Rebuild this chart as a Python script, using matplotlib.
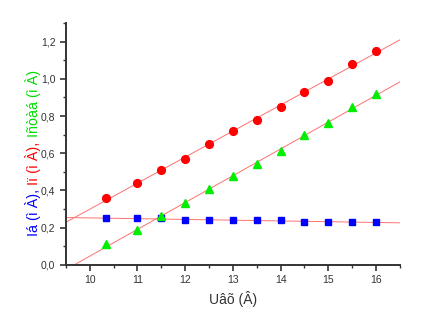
"""Recreate the current/voltage chart with linear fits."""

import matplotlib

matplotlib.use("Agg")
import matplotlib.pyplot as plt
import numpy as np
from matplotlib.ticker import FuncFormatter, MultipleLocator

plt.rcParams["font.family"] = ["Liberation Sans", "DejaVu Sans"]

u_in = [10.35, 11.0, 11.5, 12.0, 12.5, 13.0, 13.5, 14.0, 14.5, 15.0, 15.5, 16.0]
i_a = [0.25, 0.25, 0.25, 0.24, 0.24, 0.24, 0.24, 0.24, 0.23, 0.23, 0.23, 0.23]
i_p = [0.36, 0.44, 0.51, 0.57, 0.65, 0.72, 0.78, 0.85, 0.93, 0.99, 1.08, 1.15]
i_stab = [0.11, 0.19, 0.26, 0.33, 0.41, 0.48, 0.54, 0.61, 0.70, 0.76, 0.85, 0.92]

X_LIM = (9.5, 16.5)
Y_LIM = (0.0, 1.3)
FIT_COLOR = "#ff7070"
AXIS_COLOR = "#333333"

fig = plt.figure(figsize=(4.25, 3.29), dpi=100)
ax = fig.add_axes([0.155, 0.195, 0.786, 0.735])

x_fit = np.array(X_LIM)
for values in (i_a, i_p, i_stab):
    slope, intercept = np.polyfit(u_in, values, 1)
    ax.plot(x_fit, slope * x_fit + intercept, color=FIT_COLOR, linewidth=0.7, zorder=2)

ax.plot(u_in, i_a, "s", color="#0000ff", markersize=4.6, zorder=3)
ax.plot(u_in, i_p, "o", color="#ff0000", markersize=5.6, zorder=3)
ax.plot(u_in, i_stab, "^", color="#00ee00", markersize=5.6, zorder=3)

ax.set_xlim(*X_LIM)
ax.set_ylim(*Y_LIM)
ax.xaxis.set_major_locator(MultipleLocator(1))
ax.xaxis.set_minor_locator(MultipleLocator(0.5))
ax.yaxis.set_major_locator(MultipleLocator(0.2))
ax.yaxis.set_minor_locator(MultipleLocator(0.1))
ax.yaxis.set_major_formatter(FuncFormatter(lambda v, _: f"{v:.1f}".replace(".", ",")))

for side in ("top", "right"):
    ax.spines[side].set_visible(False)
for side in ("left", "bottom"):
    ax.spines[side].set_color(AXIS_COLOR)
    ax.spines[side].set_linewidth(1.4)

ax.tick_params(which="major", direction="out", length=4, width=1.2,
               color=AXIS_COLOR, labelcolor=AXIS_COLOR, labelsize=7.5)
ax.tick_params(which="minor", direction="out", length=2.5, width=1.0, color=AXIS_COLOR)

ax.set_xlabel("Uâõ (Â)", fontsize=10, color=AXIS_COLOR, labelpad=4)

# multi-coloured y label, built bottom-to-top from rotated pieces
parts = [("Iá (ì À), ", "#0000ff"), ("Iï (ì À), ", "#ff0000"), ("Iñòàá (ì À)", "#00dd00")]
fig.canvas.draw()
renderer = fig.canvas.get_renderer()
texts = []
for label, color in parts:
    texts.append(fig.text(0.078, 0.0, label, rotation=90, color=color, fontsize=10.3,
                          ha="center", va="bottom"))
heights = [t.get_window_extent(renderer).height / fig.bbox.height for t in texts]
y_pos = 0.535 - sum(heights) / 2
for t, h in zip(texts, heights):
    t.set_y(y_pos)
    y_pos += h

fig.savefig("out.png", dpi=100)
